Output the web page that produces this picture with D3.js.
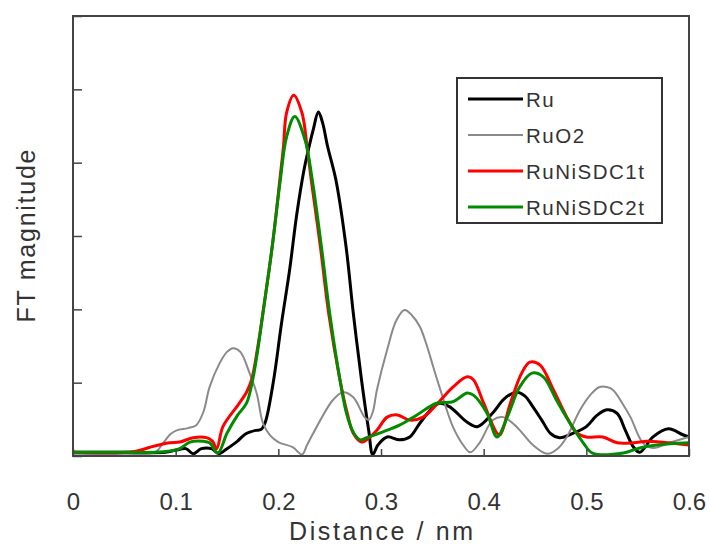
<!DOCTYPE html>
<html lang="en">
<head>
<meta charset="utf-8">
<title>FT magnitude</title>
<script src="https://cdn.jsdelivr.net/npm/d3@7"></script>
<style>
  body { margin: 0; background: #fff; }
  text { font-family: "Liberation Sans", Arial, sans-serif; fill: #333; }
</style>
</head>
<body>
<script>
// tick values / labels
var distTicks = [0, 0.1, 0.2, 0.3, 0.4, 0.5, 0.6];
var distLabels = ["0", "0.1", "0.2", "0.3", "0.4", "0.5", "0.6"];
var magTicks = [0, 1, 2, 3, 4, 5, 6];

var seriesNames = ["Ru", "RuO2", "RuNiSDC1t", "RuNiSDC2t"];

// [distance nm, FT magnitude]
var ru = [[0,0.05],[0.05,0.05],[0.09,0.05],[0.1,0.08],[0.11,0.1],[0.117,0.03],[0.125,0.1],[0.135,0.1],[0.142,0.03],
  [0.15,0.1],[0.16,0.2],[0.168,0.3],[0.178,0.35],[0.183,0.36],[0.187,0.45],[0.195,1.0],[0.203,1.8],[0.211,2.54],
  [0.218,3.3],[0.225,3.9],[0.23,4.22],[0.234,4.45],[0.239,4.69],[0.243,4.55],[0.248,4.22],[0.256,3.77],[0.266,2.85],
  [0.273,1.95],[0.281,1.04],[0.288,0.35],[0.292,0.02],[0.297,0.15],[0.306,0.26],[0.318,0.22],[0.328,0.26],[0.338,0.45],
  [0.351,0.67],[0.357,0.72],[0.367,0.67],[0.384,0.46],[0.394,0.4],[0.409,0.59],[0.42,0.78],[0.432,0.87],[0.44,0.82],
  [0.448,0.67],[0.457,0.48],[0.465,0.31],[0.474,0.25],[0.487,0.31],[0.5,0.4],[0.51,0.55],[0.52,0.63],[0.53,0.58],
  [0.538,0.35],[0.546,0.12],[0.552,0.05],[0.565,0.26],[0.58,0.37],[0.594,0.29],[0.6,0.26]];

var ruo2 = [[0,0.03],[0.05,0.03],[0.08,0.05],[0.088,0.18],[0.095,0.3],[0.101,0.35],[0.112,0.38],[0.12,0.42],[0.127,0.6],
  [0.133,0.94],[0.143,1.27],[0.15,1.42],[0.156,1.47],[0.163,1.42],[0.172,1.13],[0.179,0.85],[0.185,0.45],[0.192,0.28],
  [0.2,0.19],[0.214,0.12],[0.223,0.02],[0.228,0.15],[0.234,0.31],[0.253,0.76],[0.263,0.87],[0.273,0.8],[0.284,0.53],
  [0.288,0.49],[0.292,0.6],[0.296,0.9],[0.306,1.45],[0.315,1.85],[0.323,1.99],[0.33,1.92],[0.338,1.76],[0.345,1.49],
  [0.351,1.21],[0.357,0.94],[0.37,0.4],[0.38,0.15],[0.387,0.05],[0.396,0.18],[0.409,0.49],[0.419,0.53],[0.432,0.4],
  [0.448,0.15],[0.462,0.03],[0.472,0.1],[0.481,0.26],[0.494,0.63],[0.505,0.85],[0.513,0.94],[0.52,0.94],[0.526,0.9],
  [0.535,0.72],[0.543,0.53],[0.555,0.18],[0.565,0.11],[0.581,0.18],[0.6,0.26]];

var ruNiSDC1t = [[0,0.05],[0.06,0.06],[0.075,0.12],[0.094,0.18],[0.104,0.19],[0.117,0.25],[0.13,0.25],[0.136,0.2],
  [0.14,0.1],[0.146,0.4],[0.161,0.7],[0.169,0.87],[0.174,1.04],[0.18,1.49],[0.185,1.95],[0.194,2.85],[0.2015,3.77],
  [0.205,4.22],[0.208,4.68],[0.215,4.92],[0.223,4.68],[0.228,4.22],[0.232,3.77],[0.241,2.85],[0.249,1.95],[0.26,1.04],
  [0.267,0.59],[0.273,0.31],[0.281,0.19],[0.286,0.22],[0.296,0.35],[0.306,0.53],[0.316,0.56],[0.328,0.49],[0.341,0.53],
  [0.354,0.7],[0.37,0.94],[0.384,1.08],[0.39,1.04],[0.4,0.72],[0.413,0.31],[0.416,0.29],[0.426,0.72],[0.437,1.13],
  [0.445,1.28],[0.455,1.24],[0.468,0.9],[0.481,0.53],[0.491,0.31],[0.5,0.26],[0.516,0.26],[0.53,0.18],[0.546,0.18],
  [0.559,0.2],[0.572,0.19],[0.6,0.15]];

var ruNiSDC2t = [[0,0.05],[0.05,0.05],[0.08,0.05],[0.095,0.07],[0.104,0.1],[0.114,0.19],[0.127,0.2],[0.133,0.18],
  [0.141,0.04],[0.15,0.31],[0.16,0.55],[0.169,0.72],[0.175,1.04],[0.18,1.45],[0.185,1.95],[0.194,2.85],[0.202,3.77],
  [0.208,4.35],[0.216,4.63],[0.226,4.31],[0.233,3.77],[0.242,2.85],[0.25,1.95],[0.26,1.04],[0.267,0.55],[0.274,0.3],
  [0.28,0.22],[0.286,0.25],[0.302,0.33],[0.318,0.42],[0.335,0.56],[0.354,0.72],[0.37,0.74],[0.384,0.86],[0.39,0.83],
  [0.403,0.59],[0.413,0.26],[0.423,0.53],[0.435,0.94],[0.447,1.13],[0.458,1.08],[0.471,0.76],[0.484,0.45],[0.497,0.18],
  [0.506,0.04],[0.536,0.04],[0.552,0.11],[0.569,0.15],[0.6,0.18]];

var seriesData = [ru, ruo2, ruNiSDC1t, ruNiSDC2t];

// styles
var lineColors = ["#000000", "#8a8a8a", "#ff0000", "#008c00"];
var lineWidths = [3, 2, 3, 3];

var margin = {top: 16, right: 20, bottom: 90, left: 73};
var width = 709 - margin.left - margin.right;
var height = 546 - margin.top - margin.bottom;

var svg = d3.select("body").append("svg")
  .attr("width", 709)
  .attr("height", 546);

var g = svg.append("g")
  .attr("transform", "translate(" + margin.left + "," + margin.top + ")");

var x = d3.scaleLinear().domain([0, 0.6]).range([0, width]);
var y = d3.scaleLinear().domain([0, 6]).range([height, 0]);

g.append("clipPath").attr("id", "plotclip")
  .append("rect").attr("width", width).attr("height", height);

// curves
var line = d3.line()
  .x(function(d) { return x(d[0]); })
  .y(function(d) { return y(d[1]); })
  .curve(d3.curveCatmullRom.alpha(0.5));

g.append("g").attr("clip-path", "url(#plotclip)")
  .selectAll("path")
  .data(seriesData)
  .enter().append("path")
  .attr("d", line)
  .attr("fill", "none")
  .attr("stroke", function(d, i) { return lineColors[i]; })
  .attr("stroke-width", function(d, i) { return lineWidths[i]; })
  .attr("stroke-linejoin", "round");

// axes, ticks inward
var xAxis = d3.axisBottom(x)
  .tickValues(distTicks)
  .tickSize(-7)
  .tickPadding(37)
  .tickFormat(function(d, i) { return distLabels[i]; });

var xg = g.append("g")
  .attr("transform", "translate(0," + height + ")")
  .call(xAxis);
xg.select(".domain").remove();
xg.selectAll("line").attr("stroke", "#444").attr("stroke-width", 1.5);
xg.selectAll("text").style("font-size", "24px").attr("fill", "#333");

var yAxis = d3.axisLeft(y)
  .tickValues(magTicks)
  .tickSize(-9)
  .tickFormat("");

var yg = g.append("g").call(yAxis);
yg.select(".domain").remove();
yg.selectAll("line").attr("stroke", "#444").attr("stroke-width", 1.5);

// frame
g.append("rect")
  .attr("width", width)
  .attr("height", height)
  .attr("fill", "none")
  .attr("stroke", "#444")
  .attr("stroke-width", 2);

// axis titles
svg.append("text")
  .attr("x", margin.left + width / 2)
  .attr("y", 540)
  .attr("text-anchor", "middle")
  .attr("textLength", 184)
  .attr("lengthAdjust", "spacing")
  .style("font-size", "25px")
  .text("Distance / nm");

svg.append("text")
  .attr("transform", "translate(35," + (margin.top + 220) + ") rotate(-90)")
  .attr("text-anchor", "middle")
  .attr("textLength", 173)
  .attr("lengthAdjust", "spacing")
  .style("font-size", "25px")
  .text("FT magnitude");

// legend
var legend = svg.append("g");
legend.append("rect")
  .attr("x", 457).attr("y", 78)
  .attr("width", 205).attr("height", 145)
  .attr("fill", "#fff")
  .attr("stroke", "#333")
  .attr("stroke-width", 2);

var items = legend.selectAll(".item")
  .data(seriesNames)
  .enter().append("g")
  .attr("class", "item")
  .attr("transform", function(d, i) { return "translate(468," + (99 + i * 36) + ")"; });

items.append("line")
  .attr("x1", 0).attr("x2", 55)
  .attr("stroke", function(d, i) { return lineColors[i]; })
  .attr("stroke-width", function(d, i) { return lineWidths[i]; });

items.append("text")
  .attr("x", 58)
  .attr("y", 8)
  .style("font-size", "20.5px")
  .style("letter-spacing", "1.5px")
  .text(function(d) { return d; });
</script>
</body>
</html>
